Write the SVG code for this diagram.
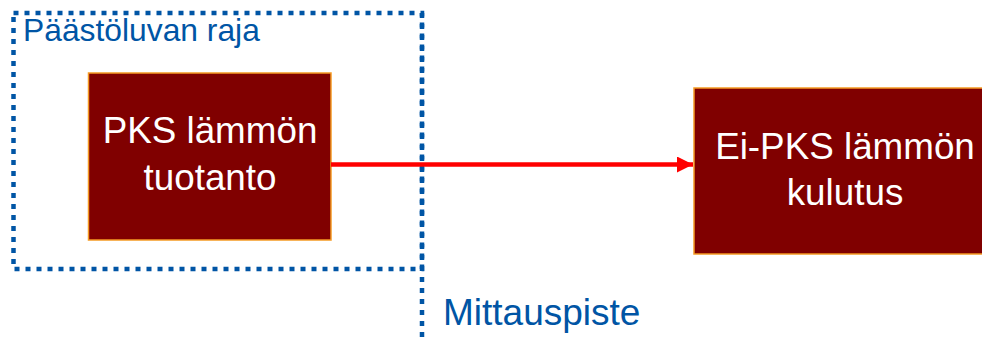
<svg xmlns="http://www.w3.org/2000/svg" width="982" height="341" viewBox="0 0 982 341">
<defs>
<style>
.box{fill:#800000;stroke:#F59A23;stroke-width:1.5}
.bt{font-family:"Liberation Sans",Arial,sans-serif;font-size:36.8px;fill:#FFFFFF;text-anchor:middle}
.lbl{font-family:"Liberation Sans",Arial,sans-serif;fill:#0055A5}
.dot{fill:none;stroke:#0055A5;stroke-width:4.5;stroke-dasharray:5 6}
.conn{stroke:#FF0000;stroke-width:4.5;fill:none}
</style>
<marker id="ah" markerUnits="userSpaceOnUse" markerWidth="16" markerHeight="16" refX="16" refY="8" orient="auto">
<path d="M0,0 L16,8 L0,16 Z" fill="#FF0000"/>
</marker>
</defs>
<rect width="982" height="341" fill="#FFFFFF"/>
<g id="boundary">
<rect class="dot" x="13.5" y="13" width="408.5" height="256"/>
<text class="lbl" x="23" y="40.5" font-size="31.8">Päästöluvan raja</text>
</g>
<g id="measure">
<line class="dot" x1="422" y1="13" x2="422" y2="341"/>
<text class="lbl" x="443" y="324.5" font-size="37">Mittauspiste</text>
</g>
<g id="pks">
<rect class="box" x="88.5" y="73" width="242.5" height="167"/>
<text class="bt" x="210" y="143">PKS lämmön</text>
<text class="bt" x="210" y="190">tuotanto</text>
</g>
<g id="eipks">
<rect class="box" x="694" y="88" width="302" height="166"/>
<text class="bt" x="845" y="158.5">Ei-PKS lämmön</text>
<text class="bt" x="845" y="205">kulutus</text>
</g>
<g id="connectors">
<line class="conn" x1="331" y1="164.5" x2="693" y2="164.5" marker-end="url(#ah)"/>
</g>
</svg>
